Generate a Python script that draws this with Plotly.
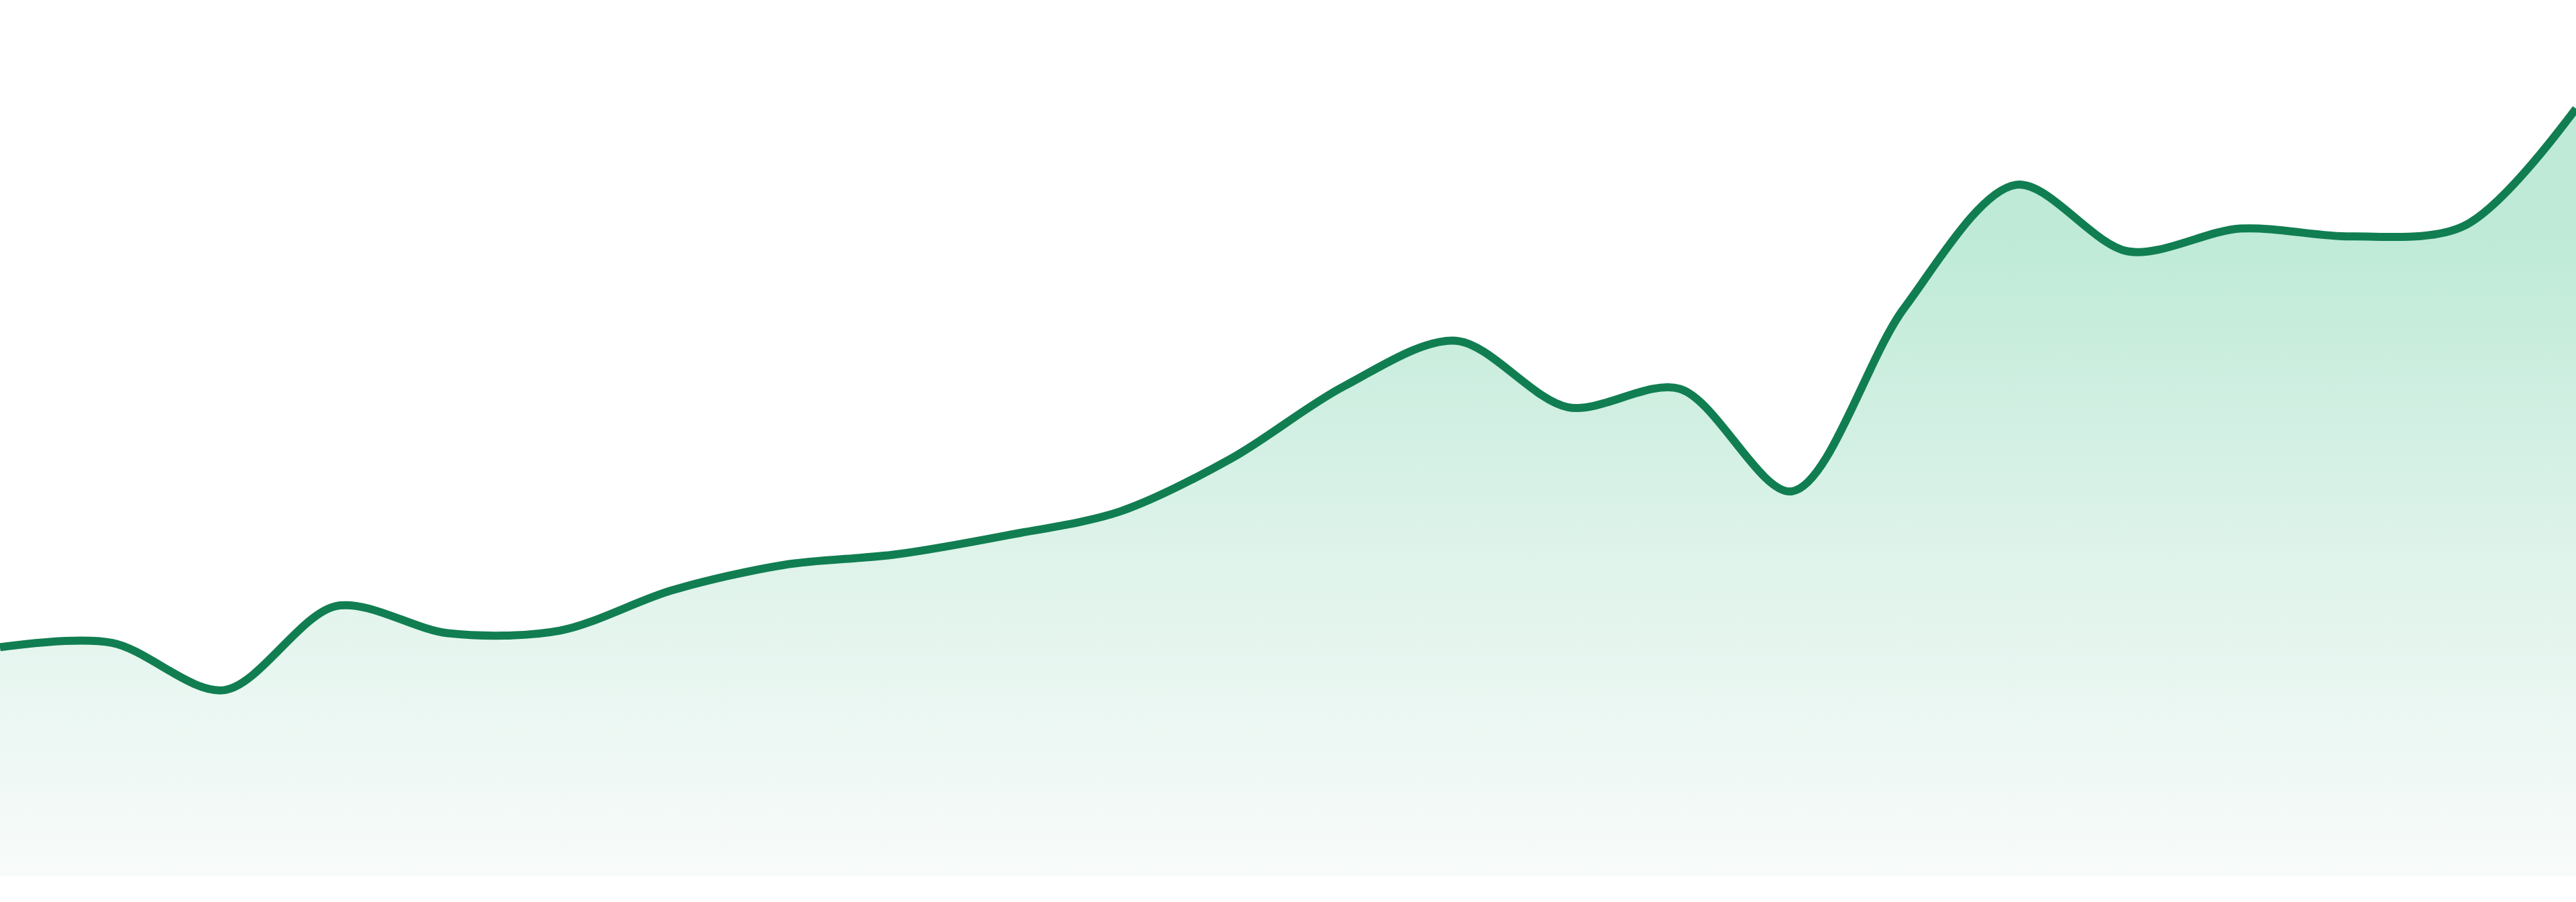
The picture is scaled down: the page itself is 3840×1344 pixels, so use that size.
import plotly.graph_objects as go

# Data (values as % of plot height)
periods = list(range(24))
values = [26.1, 26.6, 21.2, 30.8, 27.7, 28.0, 32.6, 35.5, 36.7, 38.9, 41.6, 47.7,
          55.9, 61.1, 53.5, 55.6, 43.9, 64.8, 78.9, 71.3, 73.9, 73.0, 74.2, 87.6]

LINE_COLOR = "#117e52"

fig = go.Figure()
fig.add_trace(go.Scatter(
    x=periods,
    y=values,
    mode="lines",
    line=dict(color=LINE_COLOR, width=12, shape="spline", smoothing=0.9),
    fill="tozeroy",
    fillgradient=dict(
        type="vertical",
        start=0,
        stop=74,
        colorscale=[
            [0.0, "rgb(248,251,250)"],
            [0.5, "rgb(222,243,234)"],
            [1.0, "rgb(190,234,215)"],
        ],
    ),
    hoverinfo="skip",
    showlegend=False,
))

fig.update_layout(
    width=3840,
    height=1344,
    margin=dict(l=0, r=0, t=0, b=39, pad=0),
    paper_bgcolor="white",
    plot_bgcolor="white",
    xaxis=dict(visible=False, range=[0, 23], fixedrange=True),
    yaxis=dict(visible=False, range=[0, 100], fixedrange=True),
    showlegend=False,
)

fig.write_html(
    "out.html",
    config={"displayModeBar": False},
    post_script="document.body.style.margin='0';document.body.style.overflow='hidden';",
)
